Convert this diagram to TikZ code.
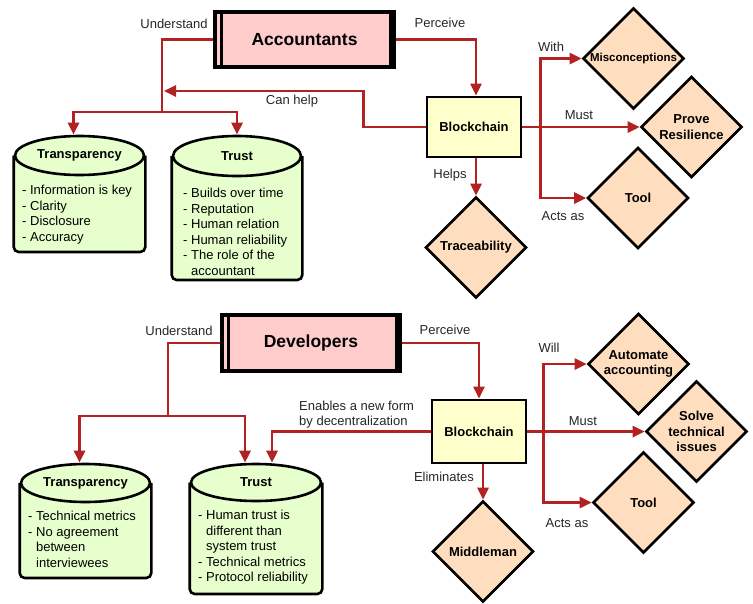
\documentclass[tikz,border=0pt]{standalone}
\usepackage{fontspec}
\setmainfont{Liberation Sans}
\usetikzlibrary{arrows.meta, calc, backgrounds, shapes.geometric}
\definecolor{linkred}{RGB}{178,34,34}
\definecolor{actorpink}{RGB}{255,204,204}
\definecolor{chainyellow}{RGB}{255,255,204}
\definecolor{topicgreen}{RGB}{230,255,204}
\definecolor{outcomepeach}{RGB}{255,222,192}
\newcommand\actorbars[1]{
    \draw [line width=3pt] ([xshift=8pt]#1.north west) -- ([xshift=8pt]#1.south west);
    \draw [line width=3pt] ([xshift=-6pt]#1.north east) -- ([xshift=-6pt]#1.south east);
}
\newcommand\topicbody[2]{
    \draw [topicbody] (#1.west) -- (#1.west |- 0,#2) -- (#1.east |- 0,#2) -- (#1.east);
}
\tikzstyle{actor}     = [rectangle,draw=black,line width=4pt,fill=actorpink,inner sep=0pt,font=\fontsize{17.5}{20}\selectfont\bfseries]
\tikzstyle{chain}     = [rectangle,draw=black,line width=2.8pt,fill=chainyellow,inner sep=0pt,minimum width=94pt,font=\fontsize{13}{15.5}\selectfont\bfseries]
\tikzstyle{outcome}   = [diamond,aspect=1,draw=black,line width=2.6pt,fill=outcomepeach,minimum width=101pt,minimum height=101pt,inner sep=0pt,align=center,font=\fontsize{13}{15.5}\selectfont\bfseries]
\tikzstyle{topichead} = [ellipse,draw=black,line width=2.6pt,fill=topicgreen,inner sep=0pt,font=\fontsize{13}{15.5}\selectfont\bfseries]
\tikzstyle{topicbody} = [draw=black,line width=2.6pt,fill=topicgreen,rounded corners=5pt]
\tikzstyle{topiclist} = [anchor=north west,inner sep=0pt,align=left,font=\fontsize{13}{15.5}\selectfont]
\tikzstyle{link}      = [draw=linkred,line width=2.6pt]
\tikzstyle{arrow}     = [link,-{Triangle[length=12pt,width=11pt]}]
\tikzstyle{tag}       = [inner sep=1pt,text=black!85,font=\fontsize{13}{15.5}\selectfont]

\begin{document}
\begin{tikzpicture}[x=1pt,y=-1pt]
        \useasboundingbox (0,0) rectangle (753,603);

        % accountants
        \node[actor,minimum width=179pt,minimum height=55pt] (acc)       at (304.5,39.5) {Accountants};
        \actorbars{acc}
        \node[chain,minimum height=60pt]                   (acc chain)   at (474,127)    {Blockchain};
        \node[topichead,minimum width=129pt,minimum height=39pt] (acc transp) at (79.5,155.5) {Transparency};
        \node[topichead,minimum width=128pt,minimum height=40pt] (acc trust)  at (237,156)    {Trust};
        \node[topiclist] (acc transp list) at (22,185)  {- Information is key\\- Clarity\\- Disclosure\\- Accuracy};
        \node[topiclist] (acc trust list)  at (183,188) {- Builds over time\\- Reputation\\- Human relation\\- Human reliability\\- The role of the\\\phantom{- }accountant};
        \node[outcome,font=\fontsize{11.5}{14}\selectfont\bfseries] (acc miscon) at (633.5,58.5) {Misconceptions};
        \node[outcome] (acc prove) at (691.5,127)   {Prove\\Resilience};
        \node[outcome] (acc tool)  at (638,198)     {Tool};
        \node[outcome] (acc trace) at (476,247.5)   {Traceability};

        \coordinate (acc split) at (162,112);
        \coordinate (acc help)  at (164,91);
        \draw[link]  (acc.west) -| (acc split);
        \draw[arrow] (acc split) -| ([xshift=-6pt]acc transp.north);
        \draw[arrow] (acc split) -| (acc trust.north);
        \draw[arrow] (acc chain.west) -- ++(-62,0) |- (acc help);
        \draw[arrow] (acc.east) -| ([xshift=2pt]acc chain.north);
        \draw[arrow] ([xshift=2pt]acc chain.south) -- (acc trace.north);
        \draw[arrow] (acc chain.east) -- ++(18,0) |- (acc miscon.west);
        \draw[arrow] (acc chain.east) -- (acc prove.west);
        \draw[arrow] (acc chain.east) -- ++(18,0) |- (acc tool.west);

        \node[tag] (acc understand) at (174,24)  {Understand};
        \node[tag] (acc perceive)   at (440,23)  {Perceive};
        \node[tag] (acc can help)   at (292,101) {Can help};
        \node[tag] (acc with)       at (551,47)  {With};
        \node[tag] (acc must)       at (579,115) {Must};
        \node[tag] (acc acts)       at (563,216) {Acts as};
        \node[tag] (acc helps)      at (450,175) {Helps};

        % developers
        \node[actor,minimum width=178pt,minimum height=56pt] (dev)       at (311,343)    {Developers};
        \actorbars{dev}
        \node[chain,minimum height=63pt]                   (dev chain)   at (479,431.5)  {Blockchain};
        \node[topichead,minimum width=129pt,minimum height=38pt] (dev transp) at (85.5,483)  {Transparency};
        \node[topichead,minimum width=130pt,minimum height=37pt] (dev trust)  at (256,482.5) {Trust};
        \node[topiclist] (dev transp list) at (28,511)  {- Technical metrics\\- No agreement\\\phantom{- }between\\\phantom{- }interviewees};
        \node[topiclist] (dev trust list)  at (198,510) {- Human trust is\\\phantom{- }different than\\\phantom{- }system trust\\- Technical metrics\\- Protocol reliability};
        \node[outcome] (dev automate) at (638.5,364)  {Automate\\accounting};
        \node[outcome] (dev solve)    at (696.5,431.5) {Solve\\technical\\issues};
        \node[outcome] (dev tool)     at (643.5,502.5) {Tool};
        \node[outcome] (dev middle)   at (483,551.5)   {Middleman};

        \coordinate (dev split) at (168,416);
        \draw[link]  (dev.west) -| (dev split);
        \draw[arrow] (dev split) -| ([xshift=-6pt]dev transp.north);
        \draw[arrow] (dev split) -| ([xshift=-11pt]dev trust.north);
        \draw[arrow] (dev chain.west) -| ([xshift=16pt]dev trust.north);
        \draw[arrow] (dev.east) -| (dev chain.north);
        \draw[arrow] ([xshift=4pt]dev chain.south) -- (dev middle.north);
        \draw[arrow] (dev chain.east) -- ++(16,0) |- (dev automate.west);
        \draw[arrow] (dev chain.east) -- (dev solve.west);
        \draw[arrow] (dev chain.east) -- ++(16,0) |- (dev tool.west);

        \node[tag] (dev understand) at (179,331) {Understand};
        \node[tag] (dev perceive)   at (445,330) {Perceive};
        \node[tag,anchor=west,align=left] (dev enables) at (298,414.5) {Enables a new form\\by decentralization};
        \node[tag] (dev will)       at (549,348) {Will};
        \node[tag] (dev must)       at (583,421) {Must};
        \node[tag] (dev acts)       at (567,523) {Acts as};
        \node[tag] (dev eliminates) at (444,477) {Eliminates};

        \begin{pgfonlayer}{background}
            \topicbody{acc transp}{252}
            \topicbody{acc trust}{280}
            \topicbody{dev transp}{578}
            \topicbody{dev trust}{594}
        \end{pgfonlayer}
\end{tikzpicture}
\end{document}
